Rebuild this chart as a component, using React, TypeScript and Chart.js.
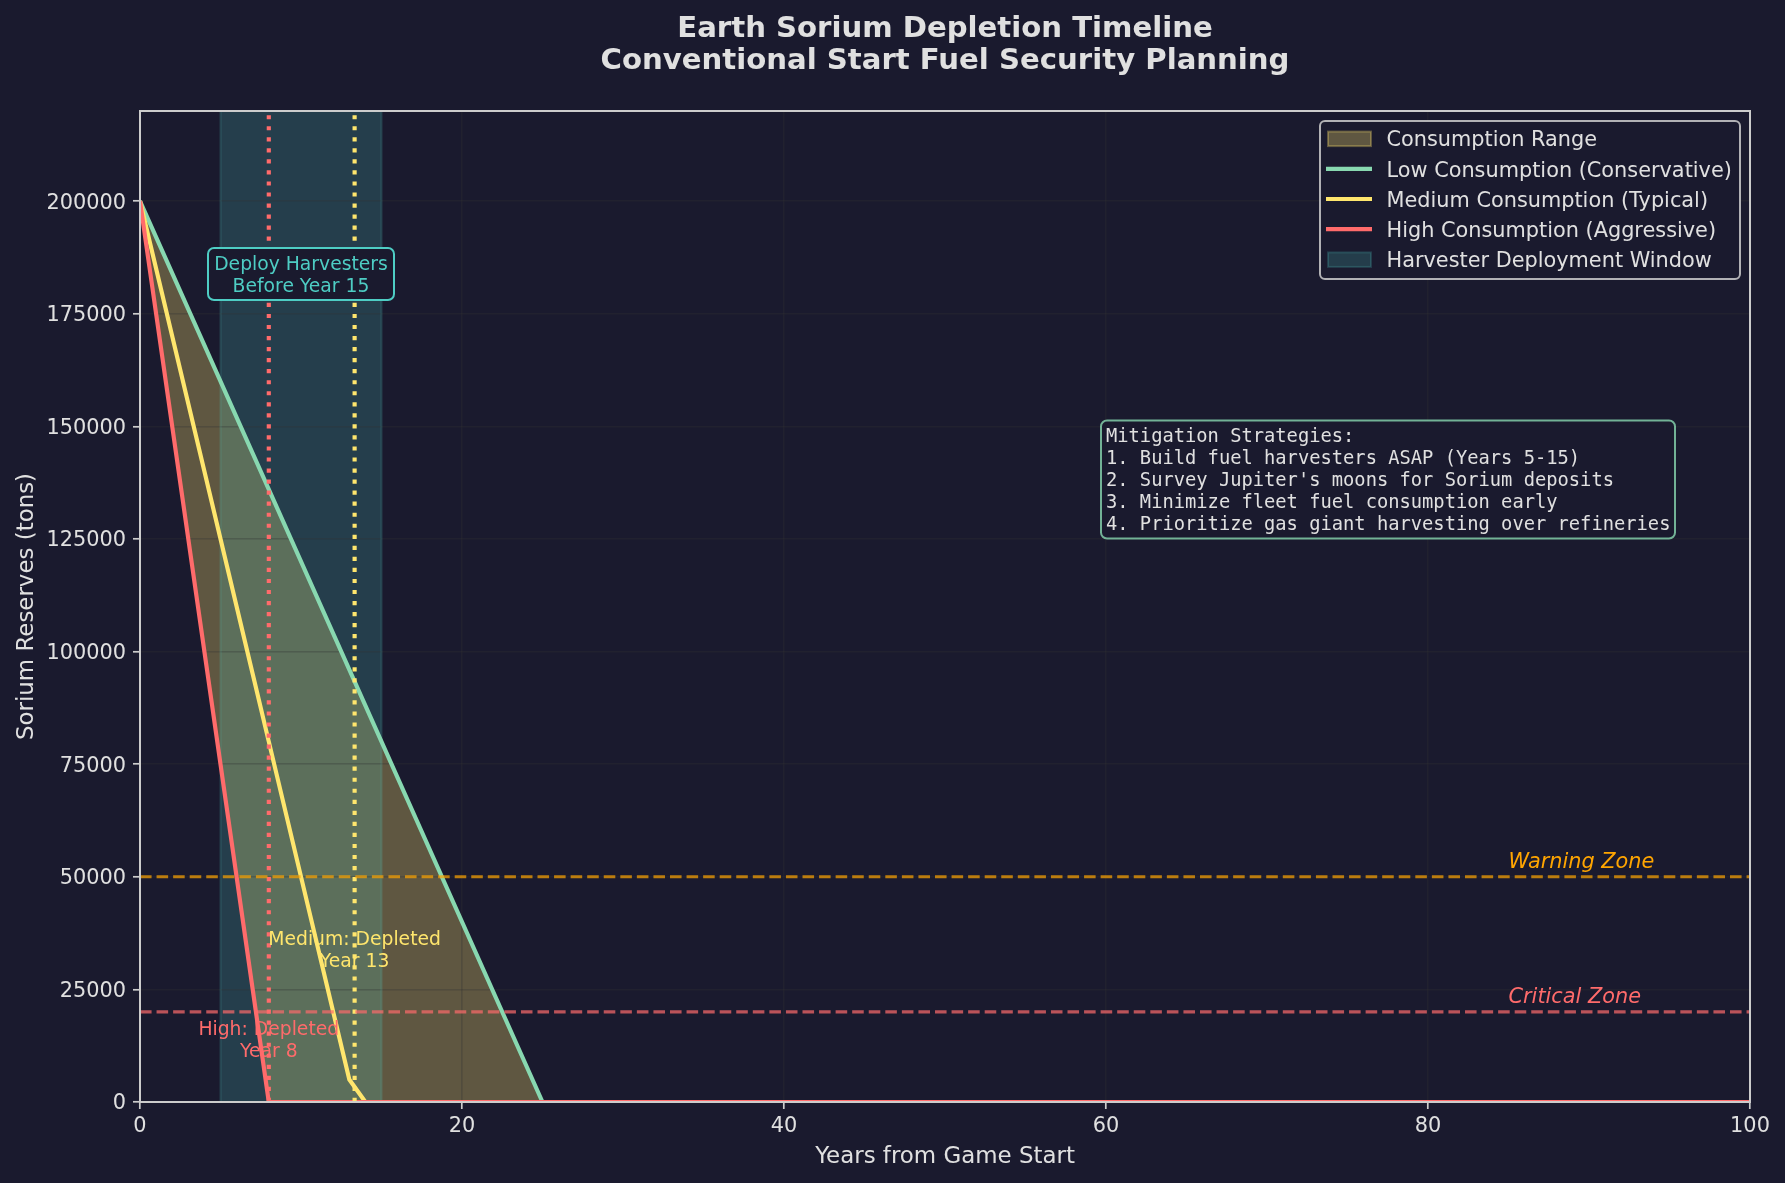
import React, { useEffect, useRef } from "react";
import { Chart, registerables } from "chart.js";

Chart.register(...registerables);

const W = 1785;
const H = 1183;
const PT = 150 / 72;
const FONT = "'DejaVu Sans'";
const MONO = "'DejaVu Sans Mono'";
const BG = "#1a1a2e";
const TEXT = "#e0e0e0";
const SPINE = "#cccccc";
const GRID = "rgba(51,51,51,0.3)";
const LOW_C = "#88d8b0";
const MED_C = "#ffe66d";
const HIGH_C = "#ff6b6b";
const TEAL = "#4ecdc4";
const ORANGE = "#ffa500";
const RANGE_FILL = "rgba(255,230,109,0.3)";
const WINDOW_FILL = "rgba(78,205,196,0.2)";

const titleLines = ["Earth Sorium Depletion Timeline", "Conventional Start Fuel Security Planning"];
const xLabel = "Years from Game Start";
const yLabel = "Sorium Reserves (tons)";

const xTickValues = [0, 20, 40, 60, 80, 100];
const yTickValues = [0, 25000, 50000, 75000, 100000, 125000, 150000, 175000, 200000];

const years = [0, 7, 8, 13, 14, 25, 100];
const lowReserves = [200000, 144000, 136000, 96000, 88000, 0, 0];
const mediumReserves = [200000, 95000, 80000, 5000, 0, 0, 0];
const highReserves = [200000, 25000, 0, 0, 0, 0, 0];

const windowYears = [5, 5, 15, 15];
const windowLevels = [0, 220000, 220000, 0];
const highDepletedYear = 8;
const mediumDepletedYear = 13.33;
const warningLevel = 50000;
const criticalLevel = 20000;
const xMax = 100;
const yMax = 220000;

const legendLabels = [
  "Consumption Range",
  "Low Consumption (Conservative)",
  "Medium Consumption (Typical)",
  "High Consumption (Aggressive)",
  "Harvester Deployment Window",
];
const deployNote = ["Deploy Harvesters", "Before Year 15"];
const mediumNote = ["Medium: Depleted", "Year 13"];
const highNote = ["High: Depleted", "Year 8"];
const strategyNote = [
  "Mitigation Strategies:",
  "1. Build fuel harvesters ASAP (Years 5-15)",
  "2. Survey Jupiter's moons for Sorium deposits",
  "3. Minimize fleet fuel consumption early",
  "4. Prioritize gas giant harvesting over refineries",
];

const pts = (xs: number[], ys: number[]) => xs.map((x, i) => ({ x, y: ys[i] }));

function roundRect(ctx: CanvasRenderingContext2D, x: number, y: number, w: number, h: number, r: number) {
  ctx.beginPath();
  ctx.roundRect(x, y, w, h, r);
}

const overlay = {
  id: "overlay",
  afterDatasetsDraw(chart: any) {
    const { ctx, chartArea: a, scales } = chart;
    const X = (v: number) => scales.x.getPixelForValue(v);
    const Y = (v: number) => scales.y.getPixelForValue(v);

    ctx.save();
    // axes frame
    ctx.strokeStyle = SPINE;
    ctx.lineWidth = 2;
    ctx.strokeRect(a.left, a.top, a.right - a.left, a.bottom - a.top);

    const multi = (lines: string[], cx: number, cy: number, color: string, font: string, lh: number) => {
      ctx.font = font;
      ctx.fillStyle = color;
      ctx.textAlign = "center";
      ctx.textBaseline = "middle";
      lines.forEach((t, i) => ctx.fillText(t, cx, cy + 2.2 + (i - (lines.length - 1) / 2) * lh));
    };

    const noteFont = `${9 * PT}px ${FONT}`;
    multi(highNote, X(highDepletedYear), Y(13900), HIGH_C, noteFont, 22);
    multi(mediumNote, X(mediumDepletedYear), Y(34000), MED_C, noteFont, 22);

    // harvester note
    const dx = X(10);
    const dy = Y(183800);
    ctx.fillStyle = BG;
    ctx.strokeStyle = TEAL;
    ctx.lineWidth = 2;
    roundRect(ctx, dx - 93, dy - 26, 186, 52, 6);
    ctx.fill();
    ctx.stroke();
    multi(deployNote, dx, dy, TEAL, noteFont, 21.7);

    // strategies
    const sx = X(60);
    const sy = Y(138200);
    ctx.fillStyle = BG;
    ctx.strokeStyle = "rgba(136,216,176,0.8)";
    ctx.lineWidth = 2;
    roundRect(ctx, sx - 5, sy - 59, 574, 118, 6);
    ctx.fill();
    ctx.stroke();
    ctx.font = `${9 * PT}px ${MONO}`;
    ctx.fillStyle = TEXT;
    ctx.textAlign = "left";
    ctx.textBaseline = "middle";
    strategyNote.forEach((t, i) => ctx.fillText(t, sx, sy + 1.5 + (i - 2) * 22.1));

    // zone labels
    ctx.textBaseline = "alphabetic";
    ctx.font = `italic ${10 * PT}px ${FONT}`;
    ctx.fillStyle = ORANGE;
    ctx.fillText("Warning Zone", X(85), Y(52000));
    ctx.fillStyle = HIGH_C;
    ctx.fillText("Critical Zone", X(85), Y(22000));

    // legend
    const lx = 1320;
    const ly = 121;
    ctx.fillStyle = BG;
    ctx.strokeStyle = "rgba(204,204,204,0.85)";
    ctx.lineWidth = 2;
    roundRect(ctx, lx, ly, 420, 158, 5);
    ctx.fill();
    ctx.stroke();
    ctx.font = `${10 * PT}px ${FONT}`;
    ctx.textBaseline = "middle";
    const styles = [RANGE_FILL, LOW_C, MED_C, HIGH_C, WINDOW_FILL];
    legendLabels.forEach((label, i) => {
      const y = 138.6 + i * 30.2;
      if (i === 0 || i === 4) {
        ctx.fillStyle = styles[i];
        ctx.strokeStyle = styles[i];
        ctx.lineWidth = 2;
        ctx.fillRect(1328, y - 7, 43, 14.5);
        ctx.strokeRect(1328, y - 7, 43, 14.5);
      } else {
        ctx.strokeStyle = styles[i];
        ctx.lineWidth = 4.17;
        ctx.beginPath();
        ctx.moveTo(1326, y);
        ctx.lineTo(1372, y);
        ctx.stroke();
      }
      ctx.fillStyle = TEXT;
      ctx.fillText(label, 1386.5, y + 2.4);
    });
    ctx.restore();
  },
};

const line = (label: string, data: any[], color: string, order: number, width = 4.17, dash: number[] = []) => ({
  label,
  data,
  borderColor: color,
  borderWidth: width,
  borderDash: dash,
  borderCapStyle: "butt",
  borderJoinStyle: "round",
  pointRadius: 0,
  tension: 0,
  fill: false,
  clip: 0,
  order,
});

export default function App() {
  const ref = useRef<HTMLCanvasElement | null>(null);
  useEffect(() => {
    document.body.style.margin = "0";
    document.body.style.background = BG;
    const dashH = [3.7 * 1.5 * PT, 1.6 * 1.5 * PT];
    const dotV = [1 * 2 * PT, 1.65 * 2 * PT];
    const chart = new Chart(ref.current as HTMLCanvasElement, {
      type: "line",
      data: {
        datasets: [
          {
            ...line(legendLabels[0], pts(years, lowReserves), "rgba(0,0,0,0)", 7, 0),
            fill: { target: 3, above: RANGE_FILL, below: RANGE_FILL },
          },
          line(legendLabels[1], pts(years, lowReserves), LOW_C, 5),
          line(legendLabels[2], pts(years, mediumReserves), MED_C, 4),
          line(legendLabels[3], pts(years, highReserves), HIGH_C, 3),
          {
            ...line(legendLabels[4], pts(windowYears, windowLevels), WINDOW_FILL, 6, 2),
            fill: "origin",
            backgroundColor: WINDOW_FILL,
          },
          line("High depletion", pts([highDepletedYear, highDepletedYear], [0, yMax]), HIGH_C, 2, 4.17, dotV),
          line("Medium depletion", pts([mediumDepletedYear, mediumDepletedYear], [0, yMax]), MED_C, 2, 4.17, dotV),
          line("Warning", pts([0, xMax], [warningLevel, warningLevel]), "rgba(255,165,0,0.7)", 1, 3.125, dashH),
          line("Critical", pts([0, xMax], [criticalLevel, criticalLevel]), "rgba(255,107,107,0.7)", 1, 3.125, dashH),
        ] as any,
      },
      options: {
        animation: false,
        responsive: false,
        devicePixelRatio: 1,
        layout: { padding: { left: 0, right: 35, top: 0, bottom: 0 } },
        events: [],
        plugins: {
          legend: { display: false },
          tooltip: { enabled: false },
          filler: { drawTime: "beforeDraw" },
          title: {
            display: true,
            fullSize: false,
            text: titleLines,
            color: TEXT,
            font: { family: FONT, size: 14 * PT, weight: "bold", lineHeight: 32 / (14 * PT) },
            padding: { top: 13, bottom: 34 },
          },
        } as any,
        scales: {
          x: {
            type: "linear",
            min: 0,
            max: xMax,
            afterFit: (s: any) => {
              s.height = H - 1102;
            },
            afterBuildTicks: (s: any) => {
              s.ticks = xTickValues.map((value) => ({ value }));
            },
            grid: { color: GRID, lineWidth: 1.6, tickColor: SPINE, tickWidth: 1.7, tickLength: 7 },
            border: { display: false },
            ticks: {
              padding: 5,
              maxRotation: 0,
              autoSkip: false,
              color: TEXT,
              font: { family: FONT, size: 10 * PT },
              callback: (v: any) => String(v),
            },
            title: {
              display: true,
              text: xLabel,
              color: TEXT,
              font: { family: FONT, size: 11 * PT },
              padding: { top: 0, bottom: 12 },
            },
          },
          y: {
            type: "linear",
            min: 0,
            max: yMax,
            afterFit: (s: any) => {
              s.width = 140;
            },
            afterBuildTicks: (s: any) => {
              s.ticks = yTickValues.map((value) => ({ value }));
            },
            grid: { color: GRID, lineWidth: 1.6, tickColor: SPINE, tickWidth: 1.7, tickLength: 7 },
            border: { display: false },
            ticks: {
              padding: 7,
              autoSkip: false,
              labelOffset: 2,
              color: TEXT,
              font: { family: FONT, size: 10 * PT },
              callback: (v: any) => String(v),
            },
            title: {
              display: true,
              text: yLabel,
              color: TEXT,
              font: { family: FONT, size: 11 * PT },
              padding: { top: 13, bottom: 0 },
            },
          },
        } as any,
      },
      plugins: [overlay],
    });
    return () => chart.destroy();
  }, []);
  return (
    <canvas
      ref={ref}
      width={W}
      height={H}
      style={{ display: "block", width: W, height: H, background: BG }}
    />
  );
}
